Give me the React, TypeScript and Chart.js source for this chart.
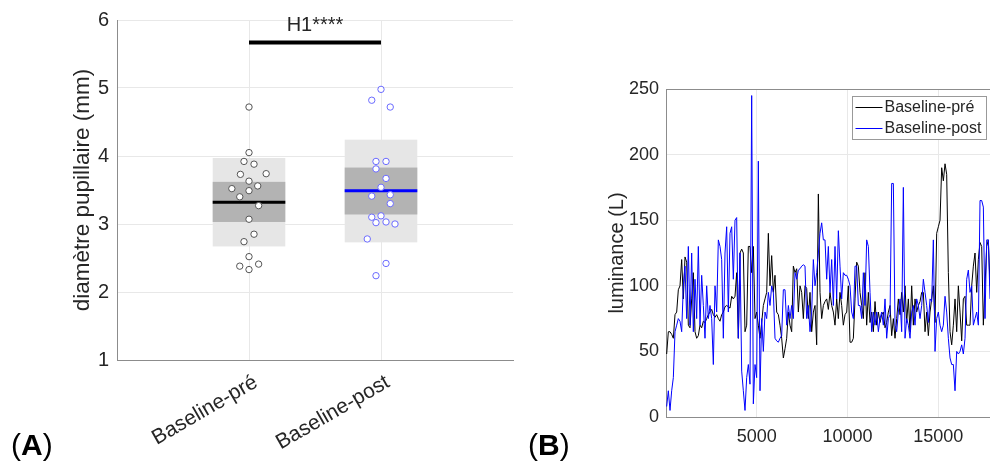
import React, { useEffect, useRef } from 'react';
import { Chart, registerables } from 'chart.js';

Chart.register(...registerables);

const FONT = "'Liberation Sans', Arial, Helvetica, sans-serif";
const TEXT = '#262626';
const GRID = '#e8e8e8';
const AXIS = '#8c8c8c';

// ---------- Panel A data ----------
const categories = ['Baseline-pré', 'Baseline-post'];
const preValues = [4.72, 4.05, 3.92, 3.88, 3.73, 3.74, 3.63, 3.56, 3.52, 3.49, 3.40, 3.27, 3.07, 2.85, 2.74, 2.52, 2.38, 2.41, 2.33];
const preJitter = [0, 0, -0.038, 0.038, -0.065, 0.13, 0, 0.066, -0.13, 0, -0.07, 0.073, 0, 0.038, -0.038, 0, -0.07, 0.073, 0];
const postValues = [4.98, 4.82, 4.72, 3.92, 3.92, 3.81, 3.67, 3.54, 3.41, 3.43, 3.30, 3.10, 3.12, 3.02, 3.03, 3.00, 2.78, 2.42, 2.24];
const postJitter = [0, -0.07, 0.07, -0.038, 0.038, -0.038, 0.038, 0, -0.07, 0.07, 0.07, -0.07, 0, -0.038, 0.038, 0.106, -0.104, 0.038, -0.038];
const preRange = [2.67, 3.97];
const preInner = [3.03, 3.62];
const preMean = 3.32;
const postRange = [2.73, 4.24];
const postInner = [3.14, 3.83];
const postMean = 3.49;
const sigLevel = 5.67;
const sigLabel = 'H1****';
const pupilTicks = [1, 2, 3, 4, 5, 6];

// ---------- Panel B data ----------
const SAMPLE_START = 37;
const SAMPLE_STEP = 91.8;
const luminanceTicks = [0, 5000, 10000, 15000];
const luminancePre = [
  48, 65, 65, 63, 60, 78, 80, 97, 100, 120,
  90, 122, 118, 70, 68, 90, 110, 65, 60, 62,
  70, 68, 73, 72, 75, 78, 80, 82, 78, 76,
  78, 75, 73, 78, 80, 84, 85, 84, 83, 92,
  90, 92, 110, 60, 125, 128, 125, 65, 70, 130,
  130, 110, 130, 75, 80, 70, 60, 72, 85, 90,
  95, 140, 100, 123, 95, 108, 80, 78, 70, 60,
  45, 52, 60, 80, 70, 65, 115, 110, 113, 80,
  100, 95, 75, 100, 98, 75, 95, 65, 80, 85,
  55, 170, 95, 75, 85, 88, 90, 82, 95, 85,
  80, 70, 90, 75, 95, 85, 70, 78, 80, 100,
  57, 57, 60, 90, 118, 115, 95, 85, 75, 110,
  70, 95, 72, 80, 65, 88, 70, 80, 72, 78,
  80, 68, 72, 80, 85, 62, 75, 60, 75, 90,
  78, 95, 80, 100, 72, 90, 65, 100, 70, 90,
  80, 85, 88, 95, 95, 65, 80, 62, 80, 90,
  100, 72, 140, 145, 150, 190, 180, 193, 185, 110,
  65, 55, 70, 90, 65, 100, 80, 58, 90, 92,
  70, 70, 70, 100, 115, 125, 95, 120, 133, 130,
  70, 100, 130, 135, 100,
];
const luminancePost = [
  8, 20, 5, 20, 30, 65, 70, 75, 73, 65,
  100, 115, 75, 130, 70, 125, 65, 105, 75, 130,
  70, 108, 85, 60, 100, 75, 85, 75, 40, 100,
  80, 135, 130, 120, 60, 125, 145, 80, 140, 145,
  105, 150, 152, 60, 125, 35, 20, 5, 30, 40,
  25, 245, 10, 40, 30, 195, 20, 75, 50, 80,
  75, 95, 85, 100, 95, 60, 58, 57, 60, 62,
  97, 97, 70, 85, 75, 85, 75, 110, 105, 112,
  113, 115, 116, 115, 75, 85, 65, 80, 120, 100,
  110, 125, 140, 148, 135, 135, 105, 130, 95, 120,
  85, 130, 90, 142, 115, 90, 110, 108, 108, 105,
  100, 80, 75, 115, 115, 85, 85, 75, 110, 85,
  135, 130, 95, 65, 80, 70, 80, 65, 75, 80,
  70, 90, 60, 75, 78, 178, 178, 70, 65, 80,
  90, 65, 175, 60, 75, 70, 60, 80, 85, 70,
  90, 85, 75, 85, 105, 95, 85, 72, 90, 88,
  135, 50, 75, 80, 70, 65, 70, 92, 80, 60,
  45, 40, 40, 20, 50, 48, 50, 55, 48, 60,
  105, 112, 95, 100, 70, 75, 80, 70, 165, 165,
  160, 75, 135, 135, 90,
];
const seriesNames = ['Baseline-pré', 'Baseline-post'];
const seriesColors = ['#000000', '#0000ff'];

const BOX_HALF = 0.275;

const boxPlugin = {
  id: 'boxes',
  beforeDatasetsDraw(chart: any) {
    const { ctx, scales } = chart;
    const x = scales.x;
    const y = scales.y;
    const groups = [
      { c: 1, r: preRange, s: preInner, m: preMean, col: '#000000' },
      { c: 2, r: postRange, s: postInner, m: postMean, col: '#0000ff' },
    ];
    ctx.save();
    groups.forEach((g) => {
      const x0 = x.getPixelForValue(g.c - BOX_HALF);
      const x1 = x.getPixelForValue(g.c + BOX_HALF);
      const ry0 = y.getPixelForValue(g.r[1]);
      const ry1 = y.getPixelForValue(g.r[0]);
      ctx.fillStyle = '#e6e6e6';
      ctx.fillRect(x0, ry0, x1 - x0, ry1 - ry0);
      const sy0 = y.getPixelForValue(g.s[1]);
      const sy1 = y.getPixelForValue(g.s[0]);
      ctx.fillStyle = '#b3b3b3';
      ctx.fillRect(x0, sy0, x1 - x0, sy1 - sy0);
      const my = y.getPixelForValue(g.m);
      ctx.strokeStyle = g.col;
      ctx.lineWidth = 3;
      ctx.beginPath();
      ctx.moveTo(x0, my);
      ctx.lineTo(x1, my);
      ctx.stroke();
    });
    ctx.restore();
  },
  afterDraw(chart: any) {
    const { ctx, scales } = chart;
    const x = scales.x;
    const y = scales.y;
    const sy = y.getPixelForValue(sigLevel);
    ctx.save();
    ctx.strokeStyle = '#000';
    ctx.lineWidth = 4;
    ctx.beginPath();
    ctx.moveTo(x.getPixelForValue(1), sy);
    ctx.lineTo(x.getPixelForValue(2), sy);
    ctx.stroke();
    ctx.fillStyle = TEXT;
    ctx.font = `20px ${FONT}`;
    ctx.textAlign = 'center';
    ctx.textBaseline = 'alphabetic';
    ctx.fillText(sigLabel, x.getPixelForValue(1.5), sy - 11);
    ctx.restore();
  },
};

const framePlugin = {
  id: 'frameLegend',
  afterDraw(chart: any) {
    const { ctx, chartArea } = chart;
    ctx.save();
    ctx.strokeStyle = AXIS;
    ctx.lineWidth = 1;
    ctx.beginPath();
    ctx.moveTo(chartArea.left, chartArea.top + 0.5);
    ctx.lineTo(chartArea.right, chartArea.top + 0.5);
    ctx.lineTo(chartArea.right - 0.5, chartArea.bottom);
    ctx.stroke();
    // legend
    const lx = 292.5;
    const ly = 96.5;
    const lw = 134;
    const lh = 43;
    ctx.fillStyle = '#ffffff';
    ctx.fillRect(lx, ly, lw, lh);
    ctx.strokeStyle = '#999999';
    ctx.strokeRect(lx, ly, lw, lh);
    ctx.font = `16px ${FONT}`;
    ctx.textBaseline = 'middle';
    ctx.textAlign = 'left';
    seriesNames.forEach((name, i) => {
      const yy = ly + 11 + i * 21;
      ctx.strokeStyle = seriesColors[i];
      ctx.beginPath();
      ctx.moveTo(lx + 3, yy);
      ctx.lineTo(lx + 30, yy);
      ctx.stroke();
      ctx.fillStyle = TEXT;
      ctx.fillText(name, lx + 32, yy);
    });
    ctx.restore();
  },
};

export default function App() {
  const leftRef = useRef<HTMLCanvasElement>(null);
  const rightRef = useRef<HTMLCanvasElement>(null);

  useEffect(() => {
    const left = new Chart(leftRef.current as HTMLCanvasElement, {
      type: 'scatter',
      data: {
        datasets: [
          {
            label: categories[0],
            data: preValues.map((v, i) => ({ x: 1 + preJitter[i], y: v })),
            pointRadius: 3.2,
            pointBorderWidth: 1,
            pointBorderColor: '#555555',
            pointBackgroundColor: '#ffffff',
          },
          {
            label: categories[1],
            data: postValues.map((v, i) => ({ x: 2 + postJitter[i], y: v })),
            pointRadius: 3.2,
            pointBorderWidth: 1,
            pointBorderColor: '#6b6bff',
            pointBackgroundColor: '#ffffff',
          },
        ],
      },
      options: {
        animation: false,
        responsive: false,
        events: [],
        layout: { padding: { top: 17, right: 27, left: 65, bottom: 0 } },
        plugins: { legend: { display: false }, tooltip: { enabled: false } },
        scales: {
          x: {
            type: 'linear',
            min: 0,
            max: 3,
            afterBuildTicks: (s: any) => {
              s.ticks = [{ value: 1 }, { value: 2 }];
            },
            afterFit: (s: any) => {
              s.height = 103;
            },
            ticks: {
              callback: (_v: any, i: number) => categories[i],
              minRotation: 30,
              maxRotation: 30,
              font: { family: FONT, size: 21 },
              color: TEXT,
              padding: 10,
              labelOffset: 7,
            },
            grid: { color: GRID, drawTicks: false },
            border: { color: AXIS },
          },
          y: {
            min: 1,
            max: 6,
            afterBuildTicks: (s: any) => {
              s.ticks = pupilTicks.map((v) => ({ value: v }));
            },
            afterFit: (s: any) => {
              s.width = 52;
            },
            ticks: { font: { family: FONT, size: 20 }, color: TEXT, padding: 8 },
            grid: { color: GRID, drawTicks: false },
            border: { color: AXIS },
            title: {
              display: true,
              text: 'diamètre pupillaire (mm)',
              font: { family: FONT, size: 22.5 },
              color: TEXT,
            },
          },
        },
      },
      plugins: [boxPlugin],
    } as any);

    const right = new Chart(rightRef.current as HTMLCanvasElement, {
      type: 'line',
      data: {
        datasets: [
          {
            label: seriesNames[0],
            data: luminancePre.map((v, i) => ({ x: SAMPLE_START + i * SAMPLE_STEP, y: v })),
            borderColor: seriesColors[0],
            borderWidth: 1,
            pointRadius: 0,
            tension: 0,
            order: 1,
          },
          {
            label: seriesNames[1],
            data: luminancePost.map((v, i) => ({ x: SAMPLE_START + i * SAMPLE_STEP, y: v })),
            borderColor: seriesColors[1],
            borderWidth: 1,
            pointRadius: 0,
            tension: 0,
            order: 0,
          },
        ],
      },
      options: {
        animation: false,
        responsive: false,
        events: [],
        layout: { padding: { top: 89, right: 1, left: 41, bottom: 0 } },
        plugins: { legend: { display: false }, tooltip: { enabled: false } },
        scales: {
          x: {
            type: 'linear',
            min: 0,
            max: 17900,
            afterBuildTicks: (s: any) => {
              s.ticks = luminanceTicks.map((v) => ({ value: v }));
            },
            afterFit: (s: any) => {
              s.height = 46;
            },
            ticks: {
              callback: (v: any) => (v === 0 ? '' : String(v)),
              maxRotation: 0,
              font: { family: FONT, size: 18 },
              color: TEXT,
              padding: 9,
            },
            grid: { color: GRID, drawTicks: false },
            border: { color: AXIS },
          },
          y: {
            min: 0,
            max: 250,
            ticks: { stepSize: 50, font: { family: FONT, size: 18 }, color: TEXT, padding: 7 },
            afterFit: (s: any) => {
              s.width = 65;
            },
            grid: { color: GRID, drawTicks: false },
            border: { color: AXIS },
            title: {
              display: true,
              text: 'luminance (L)',
              font: { family: FONT, size: 20 },
              color: TEXT,
            },
          },
        },
      },
      plugins: [framePlugin],
    } as any);

    return () => {
      left.destroy();
      right.destroy();
    };
  }, []);

  const panelLabel: React.CSSProperties = {
    position: 'absolute',
    top: 430,
    fontFamily: FONT,
    fontSize: 30,
    lineHeight: '30px',
    color: '#000',
    whiteSpace: 'nowrap',
  };

  return (
    <div
      style={{
        position: 'fixed',
        left: 0,
        top: 0,
        width: 990,
        height: 463,
        overflow: 'hidden',
        background: '#ffffff',
      }}
    >
      <canvas ref={leftRef} width={540} height={463} style={{ position: 'absolute', left: 0, top: 0 }} />
      <canvas ref={rightRef} width={432} height={463} style={{ position: 'absolute', left: 560, top: 0 }} />
      <div style={{ ...panelLabel, left: 11 }}>
        (<b>A</b>)
      </div>
      <div style={{ ...panelLabel, left: 528 }}>
        (<b>B</b>)
      </div>
    </div>
  );
}
